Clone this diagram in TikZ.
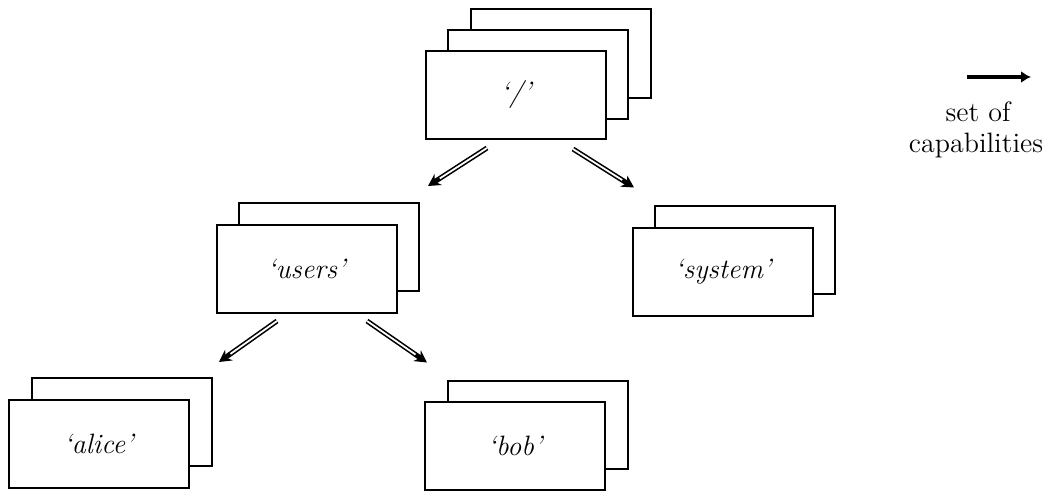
\documentclass[tikz,border=0pt]{standalone}
\usetikzlibrary{arrows.meta,calc}

\tikzset{
  card/.style={draw, fill=white, line width=1pt, minimum width=90pt,
    minimum height=44pt, inner sep=0pt,
    font=\fontsize{14}{16}\selectfont\itshape},
  % a hollow shaft (dark outline, white core) ending in a solid head
  capflow/.style={line width=2.5pt, -{Stealth[length=6pt, width=6.5pt]},
    postaction={draw=white, line width=0.9pt, -, shorten >=7pt}},
  keytext/.style={anchor=base, inner sep=0pt, font=\fontsize{14}{16}\selectfont}
}

\begin{document}
\begin{tikzpicture}[x=0.5pt, y=-0.5pt]
  \useasboundingbox (0,0) rectangle (1047,492);

  % root directory: three stacked cards
  \node[card] (rootC) at (560.5,53.5) {};
  \node[card] (rootB) at (538,74.5) {};
  \node[card] (root)  at (516,95) {`/'};

  % 'users'
  \node[card] (usersB) at (329,247) {};
  \node[card] (users)  at (306.5,269) {`users'};

  % 'system'
  \node[card] (systemB) at (745,249.5) {};
  \node[card] (system)  at (723,272) {`system'};

  % 'alice'
  \node[card] (aliceB) at (122,422) {};
  \node[card] (alice)  at (98.5,443.5) {`alice'};

  % 'bob'
  \node[card] (bobB) at (538,424.5) {};
  \node[card] (bob)  at (515,446) {`bob'};

  % capability links
  \draw[capflow] ($(root.south)+(-29,8)$)   -- ($(usersB.north east)+(8,-16)$);
  \draw[capflow] ($(root.south)+(57,9)$)    -- ($(systemB.north west)+(-20,-17)$);
  \draw[capflow] ($(users.south)+(-29.5,7)$) -- ($(aliceB.north east)+(6,-15)$);
  \draw[capflow] ($(users.south)+(60.5,7)$)  -- ($(bobB.north west)+(-20,-17)$);

  % key
  \coordinate (keyL) at (967,77);
  \coordinate (keyR) at (1031,77);
  \draw[line width=2.2pt, -{Latex[length=5pt, width=6pt]}] (keyL) -- (keyR);
  \node[keytext] (keyA) at (978,121) {set of};
  \node[keytext] (keyB) at (976,152) {capabilities};
\end{tikzpicture}
\end{document}
